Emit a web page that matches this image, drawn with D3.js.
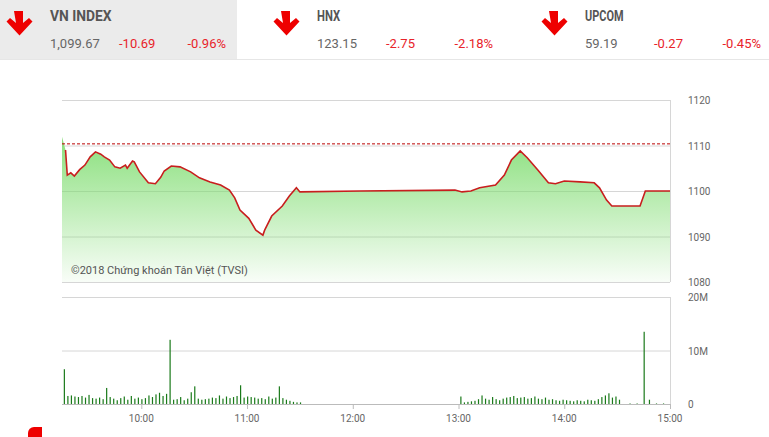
<!DOCTYPE html><html><head><meta charset="utf-8">
<script src="https://cdn.jsdelivr.net/npm/d3@7"></script>
<style>body{margin:0;background:#fff;overflow:hidden}svg{font-family:Roboto,sans-serif}</style></head><body>
<svg id="c" width="769" height="437"></svg>
<script>
const indices=["VN INDEX","HNX","UPCOM"];
const idxValues=["1,099.67","123.15","59.19"];
const idxChange=["-10.69","-2.75","-0.27"];
const idxPct=["-0.96%","-2.18%","-0.45%"];
const refValue=1110.36;
const priceTimes=[555,557,558,560,562,565,568,571,574,577,579,582,585,588,591,592,595,596,599,604,608,611,613,617,622,628,633,639,645,650,653,656,661,665,669,670,674,680,684,688,690,724,778,782,787,792,801,806,810,815,819,825,831,835,840,849,857,860,864,867,883,886,900];
const priceValues=[1111.9,1109,1103.5,1104,1103.3,1104.7,1105.7,1107.5,1108.6,1108.1,1107.5,1106.8,1105.3,1105,1105.7,1105,1106.6,1106.4,1104.2,1101.8,1101.6,1103,1104.4,1105.5,1105.3,1104.2,1102.9,1102,1101.3,1100.2,1098.5,1095.8,1094,1091.4,1090.3,1091.4,1094.5,1096.7,1098.9,1100.7,1099.8,1100,1100.2,1099.8,1100,1100.7,1101.3,1103.5,1106.8,1108.8,1107.3,1104.6,1101.8,1101.6,1102.2,1102,1101.8,1100.7,1098,1096.7,1096.7,1100,1100];
const volMorning=[6.5,1.5,1.6,1.4,1.3,1.5,1.2,1.7,1.1,1.0,1.2,0.9,3.0,1.3,1.0,0.7,1.1,1.4,0.8,1.5,1.0,1.2,0.9,1.1,1.6,1.3,1.8,2.1,1.5,1.9,12,0.8,0.9,1.3,0.7,1.0,2.2,3.3,1.0,0.8,0.9,1.0,1.2,1.1,1.6,1.0,1.4,1.1,1.3,1.5,3.5,1.2,1.4,1.3,1.2,1.0,1.1,0.9,1.4,1.0,1.2,3.3,1.1,0.8,0.6,0.4,0.3,0.3];
const volAfternoon=[1.4,0.3,0.4,0.5,0.6,0.9,1.6,1.0,0.8,1.3,0.9,0.7,1.0,1.2,1.3,1.5,1.1,1.2,1.3,1.0,1.1,1.4,1.0,0.9,1.2,0.8,0.9,0.7,0.6,0.8,0.7,0.6,0.5,0.7,0.6,0.5,0.8,0.7,0.6,0.9,1.3,1.6,2.0,1.2,1.4,0.8];
const volClose=[[877,0.1],[881,0.1],[885,13.5],[888,0.8],[892,0.1],[896,0.1]];
const priceTicks=[1080,1090,1100,1110,1120];
const volTicks=[0,10,20];
const timeTicks=[600,660,720,780,840,900];

const svg=d3.select("#c");
svg.append("rect").attr("x",0).attr("y",0).attr("width",237).attr("height",59).attr("fill","#ebebeb");
svg.append("line").attr("x1",0).attr("x2",769).attr("y1",59.5).attr("y2",59.5).attr("stroke","#e6e6e6");
const hx=[0,267,535];
indices.forEach((n,i)=>{
  const g=svg.append("g").attr("transform",`translate(${hx[i]},0)`);
  g.append("path").attr("d","M14,11h9v12l6,-5l3.5,3.5l-13,14l-13,-14l3.5,-3.5l6,5z").attr("fill","#e00");
  g.append("text").attr("x",50).attr("y",21).text(n).attr("font-size",14).attr("font-weight","bold").attr("fill","#555").attr("textLength",n.length*7.7).attr("lengthAdjust","spacingAndGlyphs");
  g.append("text").attr("x",50).attr("y",48).text(idxValues[i]).attr("font-size",13).attr("fill","#666");
  g.append("text").attr("x",119).attr("y",48).text(idxChange[i]).attr("font-size",13).attr("fill","#e8232a");
  g.append("text").attr("x",226).attr("y",48).attr("text-anchor","end").text(idxPct[i]).attr("font-size",13).attr("fill","#e8232a");
});
const x=d3.scaleLinear().domain([555,900]).range([62,670]);
const y=d3.scaleLinear().domain([1080,1120]).range([282,100]);
const yv=d3.scaleLinear().domain([0,20]).range([404,297]);
const grid="#d6d6d6";
priceTicks.forEach(t=>{
  svg.append("line").attr("x1",62).attr("x2",670).attr("y1",y(t)+.5).attr("y2",y(t)+.5).attr("stroke",grid);
  svg.append("text").attr("x",688).attr("y",y(t)+4).text(t).attr("font-size",10).attr("fill","#666");
});
svg.append("line").attr("x1",670.5).attr("x2",670.5).attr("y1",100).attr("y2",282).attr("stroke",grid);
volTicks.forEach(t=>{
  svg.append("line").attr("x1",62).attr("x2",670).attr("y1",yv(t)+.5).attr("y2",yv(t)+.5).attr("stroke",t?grid:"#bbb");
  svg.append("text").attr("x",688).attr("y",yv(t)+4).text(t?t+"M":"0").attr("font-size",10).attr("fill","#666");
});
svg.append("line").attr("x1",670.5).attr("x2",670.5).attr("y1",297).attr("y2",404).attr("stroke",grid);
const defs=svg.append("defs");
const lg=defs.append("linearGradient").attr("id","gr").attr("x1",0).attr("x2",0).attr("y1",0).attr("y2",1);
lg.append("stop").attr("offset","0").attr("stop-color","#7ddc6e").attr("stop-opacity",0.9);
lg.append("stop").attr("offset","1").attr("stop-color","#7ddc6e").attr("stop-opacity",0.05);
const pts=priceTimes.map((t,i)=>[t,priceValues[i]]);
svg.append("path").datum(pts).attr("d",d3.area().x(d=>x(d[0])).y0(282).y1(d=>y(d[1]))).attr("fill","url(#gr)");
svg.append("line").attr("x1",62).attr("x2",670).attr("y1",y(refValue)).attr("y2",y(refValue)).attr("stroke","#b00").attr("stroke-dasharray","3,2");
svg.append("path").datum(pts.slice(1)).attr("d",d3.line().x(d=>x(d[0])).y(d=>y(d[1]))).attr("fill","none").attr("stroke","#c81e1e").attr("stroke-width",1.6);
svg.append("text").attr("x",71).attr("y",274).text("©2018 Chứng khoán Tân Việt (TVSI)").attr("font-size",11).attr("fill","#555");
const vols=[].concat(volMorning.map((v,i)=>[556+i*2,v]),volAfternoon.map((v,i)=>[781+i*2,v]),volClose);
svg.selectAll(".v").data(vols).join("rect").attr("x",d=>x(d[0])).attr("width",1.2).attr("y",d=>yv(d[1])).attr("height",d=>404-yv(d[1])).attr("fill","#1a7a1a");
timeTicks.forEach(t=>{
  svg.append("line").attr("x1",x(t)+.5).attr("x2",x(t)+.5).attr("y1",404).attr("y2",409).attr("stroke","#bbb");
  svg.append("text").attr("x",x(t)).attr("y",422).attr("text-anchor","middle").text(d3.timeFormat("%H:%M")(new Date(2018,0,1,0,t))).attr("font-size",10).attr("fill","#666");
});
svg.append("path").attr("d","M28,437v-4a6,6 0 0 1 6,-6h8v10z").attr("fill","#e00");
</script></body></html>
